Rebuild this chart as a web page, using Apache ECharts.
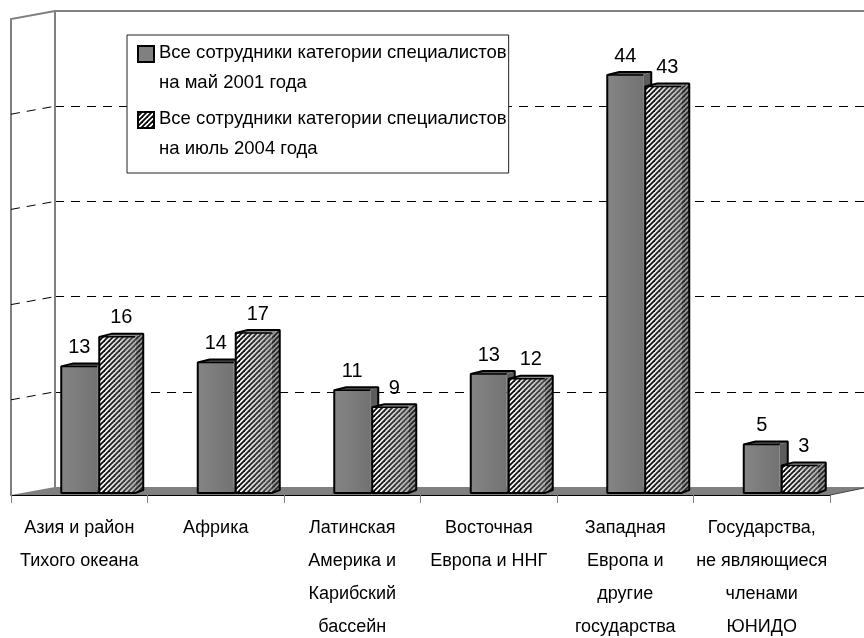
<!DOCTYPE html>
<html><head><meta charset="utf-8">
<style>html,body{margin:0;padding:0;background:#fff}#c{width:864px;height:638px}</style>
<script src="https://cdn.jsdelivr.net/npm/echarts@6/dist/echarts.min.js"></script>
</head><body><div id="c"></div>
<script>
var categories = ['Азия и район\nТихого океана','Африка','Латинская\nАмерика и\nКарибский\nбассейн','Восточная\nЕвропа и ННГ','Западная\nЕвропа и\nдругие\nгосударства','Государства,\nне являющиеся\nчленами\nЮНИДО'];
var staff2001 = [13.3,13.7,10.8,12.5,43.9,5.1];
var staff2004 = [16.4,16.8,9.0,12.0,42.7,2.9];
var seriesNames = ['Все сотрудники категории специалистов\nна май 2001 года','Все сотрудники категории специалистов\nна июль 2004 года'];
var wallTicks = [10,20,30,40];

var FONT = '"Liberation Sans", Arial, sans-serif';
function hatch(){
  var c=document.createElement('canvas');c.width=5;c.height=5;
  var g=c.getContext('2d');g.fillStyle='#fff';g.fillRect(0,0,5,5);
  g.strokeStyle='#000';g.lineWidth=1.8;
  [[-3,3,3,-3],[0,5,5,0],[2,8,8,2]].forEach(function(s){g.beginPath();g.moveTo(s[0],s[1]);g.lineTo(s[2],s[3]);g.stroke();});
  return {image:c,repeat:'repeat'};
}
var hatchFill=hatch();
var grey={type:'linear',x:0,y:0,x2:1,y2:0,colorStops:[{offset:0,color:'#858585'},{offset:1,color:'#727272'}]};
var shade={type:'linear',x:0,y:0,x2:1,y2:0,colorStops:[{offset:0,color:'rgba(150,150,150,0)'},{offset:1,color:'rgba(120,120,120,.6)'}]};

function barRender(which){
  return function(params,api){
    var v=api.value(1), cat=api.value(0);
    var base=api.coord([cat,0]), top=api.coord([cat,v]), band=api.size([1,0])[0];
    var k=band/136.5;
    var l=base[0]+(which===0?-18:20)*k, w=36*k, d=8*k, sk=3;
    var y0=base[1]-2, y1=top[1]-2;
    var r=l+w;
    function fillPoly(pts,fill){return {type:'polygon',shape:{points:pts},style:{fill:fill}};}
    var side=[[r,y1],[r+d,y1-sk],[r+d,y0-sk],[r,y0]];
    var cap=[[l,y1],[l+d+4,y1-sk],[r+d,y1-sk],[r,y1]];
    var kids=[];
    kids.push(fillPoly(side,which===0?'#5c5c5c':hatchFill));
    if(which===1) kids.push(fillPoly(side,'rgba(70,70,70,.55)'));
    kids.push(fillPoly(cap,which===0?'#555':'#8a8a8a'));
    kids.push({type:'rect',shape:{x:l,y:y1,width:w,height:y0-y1},style:{fill:which===0?grey:hatchFill}});
    if(which===1) kids.push({type:'rect',shape:{x:l,y:y1,width:w,height:y0-y1},style:{fill:shade}});
    kids.push({type:'polygon',shape:{points:[[l,y1],[l+d+4,y1-sk],[r+d,y1-sk],[r+d,y0-sk],[r,y0],[l,y0]]},style:{fill:null,stroke:'#000',lineWidth:2,lineJoin:'bevel'}});
    kids.push({type:'line',shape:{x1:l,y1:y1,x2:r,y2:y1},style:{stroke:'#000',lineWidth:1.5}});
    kids.push({type:'text',style:{text:String(Math.round(v)),x:l+(which===0?18:22)*k,y:y1-19,align:'center',verticalAlign:'middle',font:'20px '+FONT,fill:'#000'}});
    return {type:'group',children:kids};
  };
}
function stubRender(params,api){
  var v=api.value(0), p=api.coord([0,v]);
  var x0=params.coordSys.x;
  return {type:'line',shape:{x1:x0,y1:p[1],x2:x0+44,y2:p[1]-8},style:{stroke:'#000',lineWidth:1,lineDash:[9,7]}};
}
var chart=echarts.init(document.getElementById('c'));
var wall='#808080';
chart.setOption({
  animation:false,backgroundColor:'#fff',
  textStyle:{fontFamily:FONT},
  grid:[{left:11,top:19,width:819,height:476,outerBoundsMode:'none'},{left:55,top:11,width:809,height:476,outerBoundsMode:'none'}],
  xAxis:[
    {type:'category',gridIndex:0,data:categories,
      axisLine:{lineStyle:{color:'#000',width:1}},
      axisTick:{show:true,length:8,lineStyle:{color:'#808080',width:1}},
      axisLabel:{interval:0,margin:17,color:'#000',fontSize:18,lineHeight:33,fontFamily:FONT}},
    {type:'category',gridIndex:1,data:categories,show:false}],
  yAxis:[
    {type:'value',gridIndex:0,min:0,max:50,interval:10,show:false,splitLine:{show:false}},
    {type:'value',gridIndex:1,min:0,max:50,interval:10,axisLine:{show:false},axisTick:{show:false},axisLabel:{show:false},
      splitLine:{show:true,showMinLine:false,showMaxLine:false,lineStyle:{color:'#000',width:1,type:[9,7]}}}],
  legend:{show:true,orient:'vertical',left:127,top:35,backgroundColor:'#fff',borderColor:'#222',borderWidth:1,padding:[3,2,9,10],itemGap:6,itemWidth:16,itemHeight:46,
    icon:'path://M0 2H16V18H0Z M0 46H0.01V46Z',z:10,
    textStyle:{fontSize:18.5,lineHeight:30,color:'#000',fontFamily:FONT},
    data:[{name:seriesNames[0],itemStyle:{color:'#808080',borderColor:'#000',borderWidth:2}},
          {name:seriesNames[1],itemStyle:{color:hatchFill,borderColor:'#000',borderWidth:2}}]},
  graphic:{elements:[
    {type:'polygon',z:0,shape:{points:[[11,495],[55,487],[864,487],[864,488],[830,495]]},style:{fill:'#808080'}},
    {type:'polyline',z:1,shape:{points:[[11,495],[11,19],[55,11],[864,11]]},style:{fill:null,stroke:wall,lineWidth:2}},
    {type:'line',z:1,shape:{x1:55,y1:11,x2:55,y2:487},style:{stroke:wall,lineWidth:2}},
    {type:'line',z:1,shape:{x1:830,y1:495,x2:864,y2:488},style:{stroke:'#404040',lineWidth:1}}
  ]},
  series:[
    {type:'custom',name:'walls',coordinateSystem:'cartesian2d',xAxisIndex:0,yAxisIndex:0,silent:true,z:1,renderItem:stubRender,data:wallTicks.map(function(v){return [v];}),encode:{y:0}},
    {type:'custom',name:seriesNames[0],xAxisIndex:0,yAxisIndex:0,z:3,itemStyle:{color:'#808080'},renderItem:barRender(0),data:staff2001.map(function(v,i){return [i,v];}),encode:{x:0,y:1}},
    {type:'custom',name:seriesNames[1],xAxisIndex:0,yAxisIndex:0,z:4,itemStyle:{color:'#999'},renderItem:barRender(1),data:staff2004.map(function(v,i){return [i,v];}),encode:{x:0,y:1}}
  ]
});
</script></body></html>
